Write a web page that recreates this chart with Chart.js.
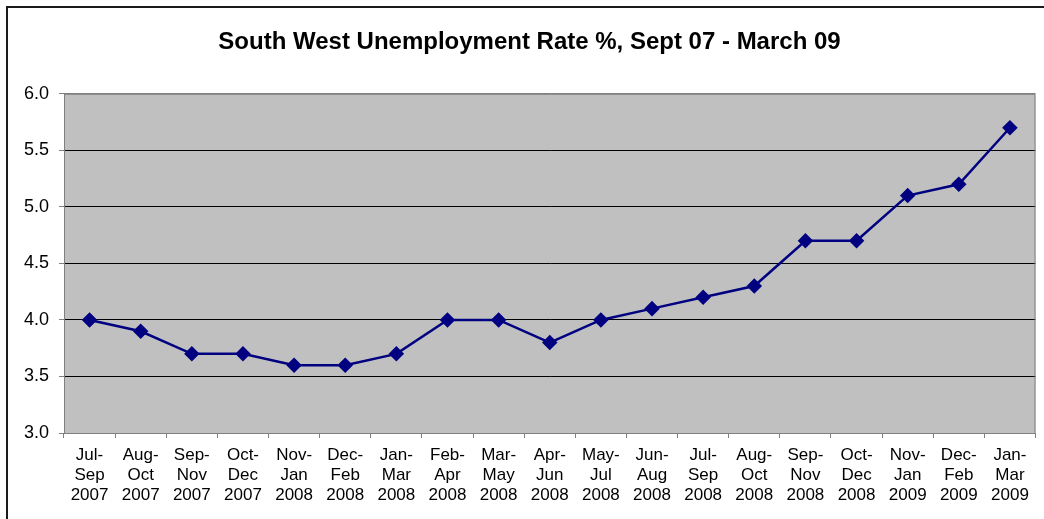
<!DOCTYPE html>
<html>
<head>
<meta charset="utf-8">
<script src="https://cdn.jsdelivr.net/npm/chart.js@4.4.1/dist/chart.umd.min.js"></script>
<style>
  html, body { margin: 0; padding: 0; background: #fff; }
  #wrap { width: 1044px; height: 519px; position: relative; }
</style>
</head>
<body>
<div id="wrap"><canvas id="line"></canvas></div>
<script>
// periods (3-month rolling) and the SW unemployment rate, %
var periods = [
  ['Jul-', 'Sep', '2007'], ['Aug-', 'Oct', '2007'], ['Sep-', 'Nov', '2007'],
  ['Oct-', 'Dec', '2007'], ['Nov-', 'Jan', '2008'], ['Dec-', 'Feb', '2008'],
  ['Jan-', 'Mar', '2008'], ['Feb-', 'Apr', '2008'], ['Mar-', 'May', '2008'],
  ['Apr-', 'Jun', '2008'], ['May-', 'Jul', '2008'], ['Jun-', 'Aug', '2008'],
  ['Jul-', 'Sep', '2008'], ['Aug-', 'Oct', '2008'], ['Sep-', 'Nov', '2008'],
  ['Oct-', 'Dec', '2008'], ['Nov-', 'Jan', '2009'], ['Dec-', 'Feb', '2009'],
  ['Jan-', 'Mar', '2009']
];
var rates = [4.0, 3.9, 3.7, 3.7, 3.6, 3.6, 3.7, 4.0, 4.0, 3.8, 4.0, 4.1, 4.2, 4.3, 4.7, 4.7, 5.1, 5.2, 5.7];
var yMin = 3.0, yMax = 6.0, yStep = 0.5;
var chartTitle = 'South West Unemployment Rate %, Sept 07 - March 09';

var frame = {
  id: 'frame',
  beforeDraw: function(chart){
    var c = chart.ctx, a = chart.chartArea;
    c.save();
    // plot area fill
    c.fillStyle = '#c0c0c0';
    c.fillRect(a.left, a.top, a.right - a.left, a.bottom - a.top);
    // outer chart border
    c.strokeStyle = '#1a1a1a';
    c.lineWidth = 2;
    c.strokeRect(7, 7, chart.width + 20, chart.height + 20);
    c.restore();
  },
  afterDraw: function(chart){
    var c = chart.ctx, a = chart.chartArea;
    c.save();
    c.strokeStyle = '#808080';
    c.lineWidth = 1;
    c.beginPath();
    c.moveTo(a.left + 0.5, a.bottom);
    c.lineTo(a.left + 0.5, a.top + 0.5);
    c.lineTo(a.right - 0.5, a.top + 0.5);
    c.lineTo(a.right - 0.5, a.bottom);
    c.stroke();
    c.restore();
  }
};

$ = function(s){ return document.querySelector(s); };

function graph_line(){
  var ctx = $('#line');
  new Chart(ctx, {
    type: 'line',
    data: {
      labels: periods,
      datasets: [{
        data: rates,
        borderColor: '#000080',
        backgroundColor: '#000080',
        borderWidth: 2.5,
        pointStyle: 'rectRot',
        pointRadius: 6,
        pointHoverRadius: 6,
        tension: 0
      }]
    },
    options: {
      responsive: false,
      animation: false,
      events: [],
      layout: { padding: { left: 16, right: 1, top: 0, bottom: 0 } },
      plugins: {
        legend: { display: false },
        tooltip: { enabled: false },
        title: {
          display: true,
          text: chartTitle,
          color: '#000',
          font: { family: 'Liberation Sans, Arial, sans-serif', size: 24, weight: 'bold', lineHeight: 1.2 },
          padding: { top: 28, bottom: 37 }
        }
      },
      scales: {
        x: {
          offset: true,
          grid: { offset: true, drawOnChartArea: false, color: '#808080', tickLength: 5 },
          border: { color: '#808080' },
          ticks: {
            color: '#000',
            maxRotation: 0,
            autoSkip: false,
            padding: 7,
            font: { family: 'Liberation Sans, Arial, sans-serif', size: 17, lineHeight: 1.18 }
          },
          afterFit: function(s){ s.height = 86; }
        },
        y: {
          min: yMin,
          max: yMax,
          grid: {
            color: function(c){ return (c.tick.value === yMin || c.tick.value === yMax) ? '#808080' : '#000'; },
            tickColor: '#808080',
            tickLength: 5
          },
          border: { color: '#808080' },
          ticks: {
            stepSize: yStep,
            color: '#000',
            padding: 10,
            font: { family: 'Liberation Sans, Arial, sans-serif', size: 18 },
            callback: function(v){ return v.toFixed(1); }
          },
          afterFit: function(s){ s.width = 48; }
        }
      }
    },
    plugins: [frame]
  });
}

var cv = $('#line');
cv.width = 1044; cv.height = 519;
graph_line();
</script>
</body>
</html>
